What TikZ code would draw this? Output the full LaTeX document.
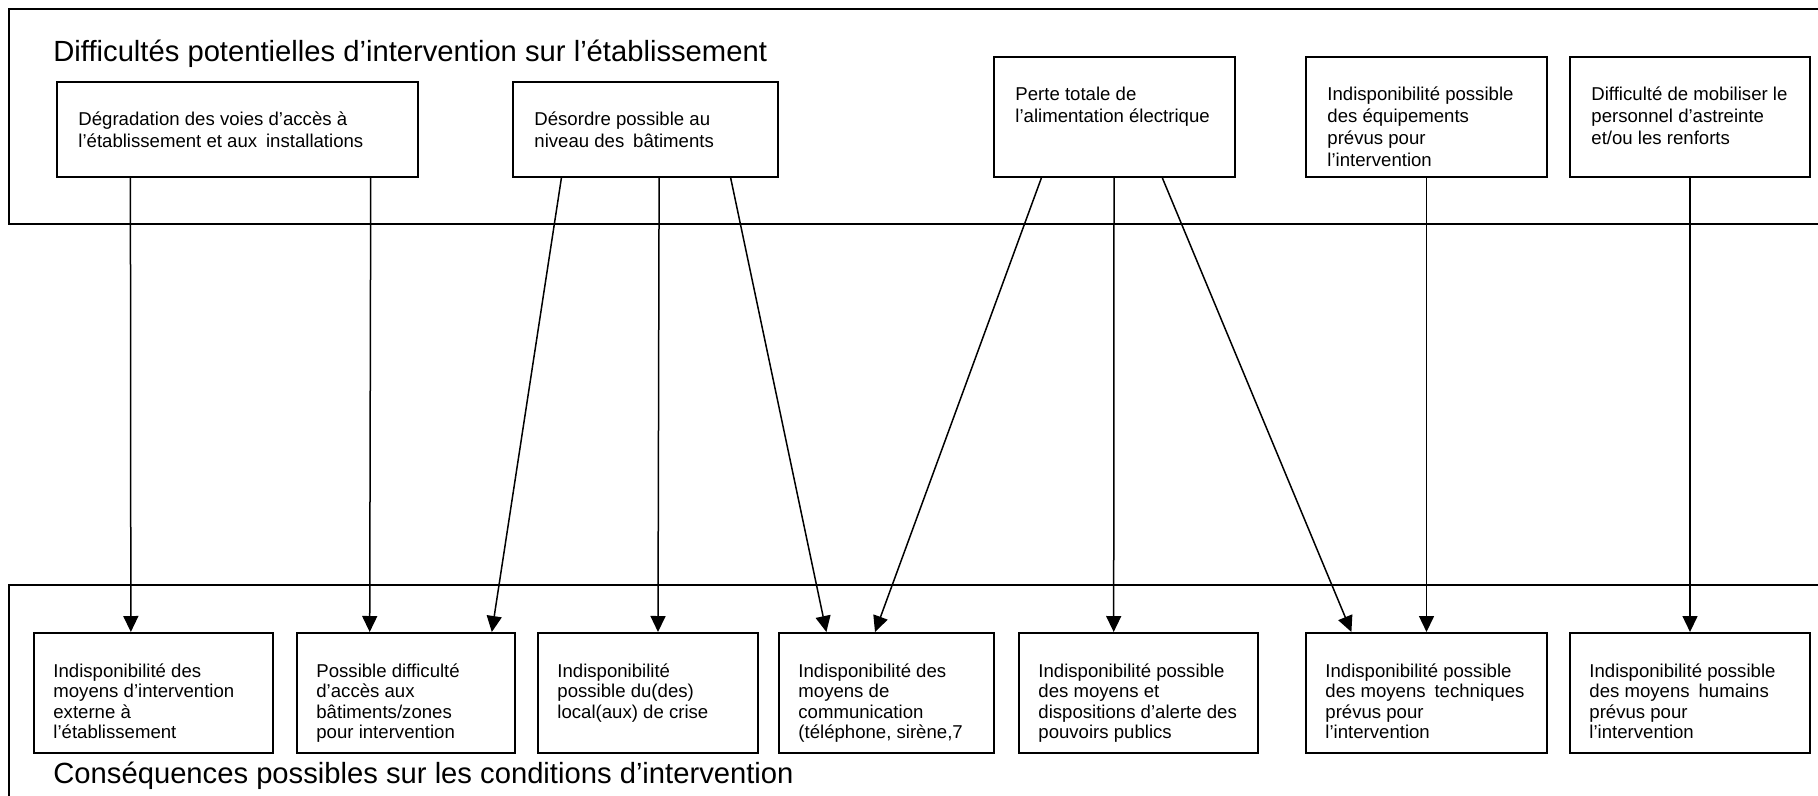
\documentclass[tikz,border=0pt]{standalone}
\usepackage{fontspec}
\setmainfont{Liberation Sans}
\usetikzlibrary{arrows.meta,calc,fit}
\begin{document}
\begin{tikzpicture}[x=0.5pt,y=-0.5pt,
  frame/.style={draw, line width=1pt, inner sep=0pt},
  box/.style={draw, line width=1pt, inner sep=0pt},
  txt/.style={anchor=base west, inner sep=0pt, font=\fontsize{9.3pt}{11pt}\selectfont},
  txtlow/.style={anchor=base west, inner sep=0pt, font=\fontsize{9.3pt}{10.3pt}\selectfont},
  heading/.style={anchor=base west, inner sep=0pt, font=\fontsize{14.6pt}{17pt}\selectfont},
  arr/.style={-{Triangle[length=8pt,width=7.5pt]}, line width=0.75pt},
]
\clip (0,0) rectangle (1818,796);
\fill[white] (0,0) rectangle (1818,796);

% Outer frames (both run past the right edge)
\node[frame, fit={(9,9) (1840,224)}] (topframe) {};
\node[frame, fit={(9,585) (1840,820)}] (botframe) {};

\node[heading] (T1) at (53,62) {Difficultés potentielles d’intervention sur l’établissement};
\node[heading] (T2) at (53,783) {Conséquences possibles sur les conditions d’intervention};

% Causes
\node[box, fit={(57,82) (418,177)}] (A) {};
\node[box, fit={(513,82) (778,177)}] (B) {};
\node[box, fit={(994,57) (1235,177)}] (C) {};
\node[box, fit={(1306,57) (1547,177)}] (D) {};
\node[box, fit={(1570,57) (1810,177)}] (E) {};

\node[txt] (tA) at ($(A.north west)+(22,45)$) {\parbox[t]{200pt}{Dégradation des voies d’accès à\\l’établissement et aux\hspace{0.2em} installations}};
\node[txt] (tB) at ($(B.north west)+(22,45)$) {\parbox[t]{120pt}{Désordre possible au\\niveau des\hspace{0.2em} bâtiments}};
\node[txt] (tC) at ($(C.north west)+(22,45)$) {\parbox[t]{110pt}{Perte totale de\\l’alimentation électrique}};
\node[txt] (tD) at ($(D.north west)+(22,45)$) {\parbox[t]{110pt}{Indisponibilité possible\\des équipements\\prévus pour\\l’intervention}};
\node[txt] (tE) at ($(E.north west)+(22,45)$) {\parbox[t]{110pt}{Difficulté de mobiliser le\\personnel d’astreinte\\et/ou les renforts}};

% Consequences
\node[box, fit={(34,633) (273,753)}] (b1) {};
\node[box, fit={(297,633) (515,753)}] (b2) {};
\node[box, fit={(538,633) (758,753)}] (b3) {};
\node[box, fit={(779,633) (994,753)}] (b4) {};
\node[box, fit={(1019,633) (1258,753)}] (b5) {};
\node[box, fit={(1306,633) (1547,753)}] (b6) {};
\node[box, fit={(1570,633) (1810,753)}] (b7) {};

% Text of the lower boxes is cut off just under its last baseline
\begin{scope}
\clip (0,600) rectangle (1818,742);
\node[txtlow] (t1) at ($(b1.north west)+(20,45)$) {\parbox[t]{110pt}{Indisponibilité des\\moyens d’intervention\\externe à\\l’établissement}};
\node[txtlow] (t2) at ($(b2.north west)+(20,45)$) {\parbox[t]{100pt}{Possible difficulté\\d’accès aux\\bâtiments/zones\\pour intervention}};
\node[txtlow] (t3) at ($(b3.north west)+(20,45)$) {\parbox[t]{100pt}{Indisponibilité\\possible du(des)\\local(aux) de crise}};
\node[txtlow] (t4) at ($(b4.north west)+(20,45)$) {\parbox[t]{100pt}{Indisponibilité des\\moyens de\\communication\\(téléphone, sirène,7}};
\node[txtlow] (t5) at ($(b5.north west)+(20,45)$) {\parbox[t]{110pt}{Indisponibilité possible\\des moyens et\\dispositions d’alerte des\\pouvoirs publics}};
\node[txtlow] (t6) at ($(b6.north west)+(20,45)$) {\parbox[t]{110pt}{Indisponibilité possible\\des moyens\hspace{0.2em} techniques\\prévus pour\\l’intervention}};
\node[txtlow] (t7) at ($(b7.north west)+(20,45)$) {\parbox[t]{110pt}{Indisponibilité possible\\des moyens\hspace{0.2em} humains\\prévus pour\\l’intervention}};
\end{scope}

% Links from causes to consequences
\draw[arr] ($(A.south west)!0.205!(A.south east)$) -- ($(b1.north west)!0.406!(b1.north east)$);
\draw[arr] ($(A.south west)!0.867!(A.south east)$) -- ($(b2.north west)!0.335!(b2.north east)$);
\draw[arr] ($(B.south west)!0.185!(B.south east)$) -- ($(b2.north west)!0.890!(b2.north east)$);
\draw[arr] ($(B.south west)!0.551!(B.south east)$) -- ($(b3.north west)!0.545!(b3.north east)$);
\draw[arr] ($(B.south west)!0.819!(B.south east)$) -- ($(b4.north west)!0.223!(b4.north east)$);
\draw[arr] ($(C.south west)!0.199!(C.south east)$) -- ($(b4.north west)!0.447!(b4.north east)$);
\draw[arr] ($(C.south west)!0.498!(C.south east)$) -- ($(b5.north west)!0.397!(b5.north east)$);
\draw[arr] ($(C.south west)!0.697!(C.south east)$) -- ($(b6.north west)!0.191!(b6.north east)$);
\draw[arr] (D.south) -- (b6.north);
\draw[arr] (E.south) -- (b7.north);
\end{tikzpicture}
\end{document}
